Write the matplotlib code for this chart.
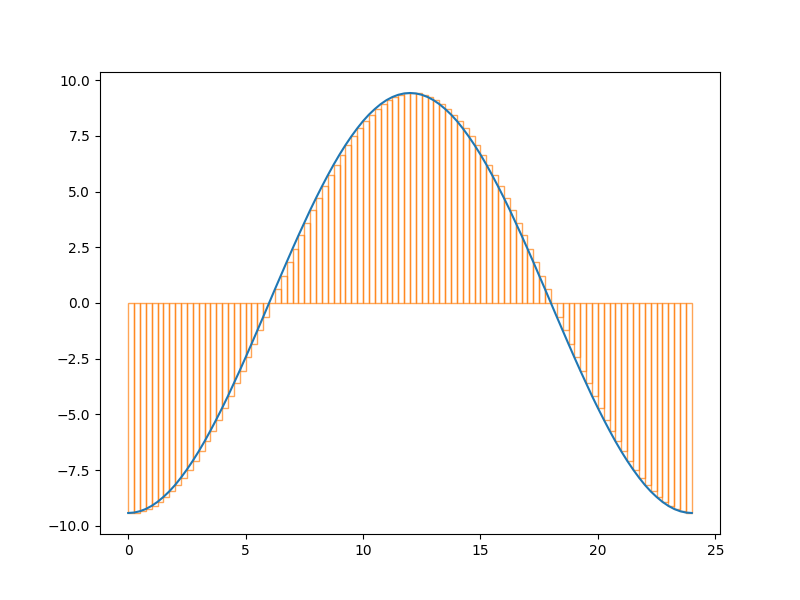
import matplotlib

matplotlib.use("Agg")
import matplotlib.pyplot as plt
import numpy as np

# x positions: 0 to 24 in steps of 0.25 (97 points, bars use the first 96)
x_vals = np.arange(0, 24.01, 0.25)

# curve / bar heights (left edge of each bar)
half_up = [-9.42, -9.40, -9.34, -9.24, -9.10, -8.92, -8.70, -8.45, -8.16, -7.83,
           -7.47, -7.08, -6.66, -6.21, -5.73, -5.23, -4.71, -4.17, -3.60, -3.03,
           -2.44, -1.84, -1.23, -0.62, 0.00, 0.62, 1.23, 1.84, 2.44, 3.03,
           3.60, 4.17, 4.71, 5.23, 5.73, 6.21, 6.66, 7.08, 7.47, 7.83,
           8.16, 8.45, 8.70, 8.92, 9.10, 9.24, 9.34, 9.40, 9.42]
half_down = [9.40, 9.34, 9.24, 9.10, 8.92, 8.70, 8.45, 8.16, 7.83, 7.47,
             7.08, 6.66, 6.21, 5.73, 5.23, 4.71, 4.17, 3.60, 3.03, 2.44,
             1.84, 1.23, 0.62, 0.00, -0.62, -1.23, -1.84, -2.44, -3.03, -3.60,
             -4.17, -4.71, -5.23, -5.73, -6.21, -6.66, -7.08, -7.47, -7.83, -8.16,
             -8.45, -8.70, -8.92, -9.10, -9.24, -9.34, -9.40, -9.42]
y_vals = np.array(half_up + half_down)

fig, ax = plt.subplots(figsize=(8, 6), dpi=100)
ax.bar(x_vals[:-1], y_vals[:-1], width=0.25, align="edge",
       fill=False, edgecolor="C1", alpha=0.7, linewidth=1.0)
ax.plot(x_vals, y_vals, color="C0", linewidth=1.5)

fig.savefig("out.png")
plt.close(fig)
